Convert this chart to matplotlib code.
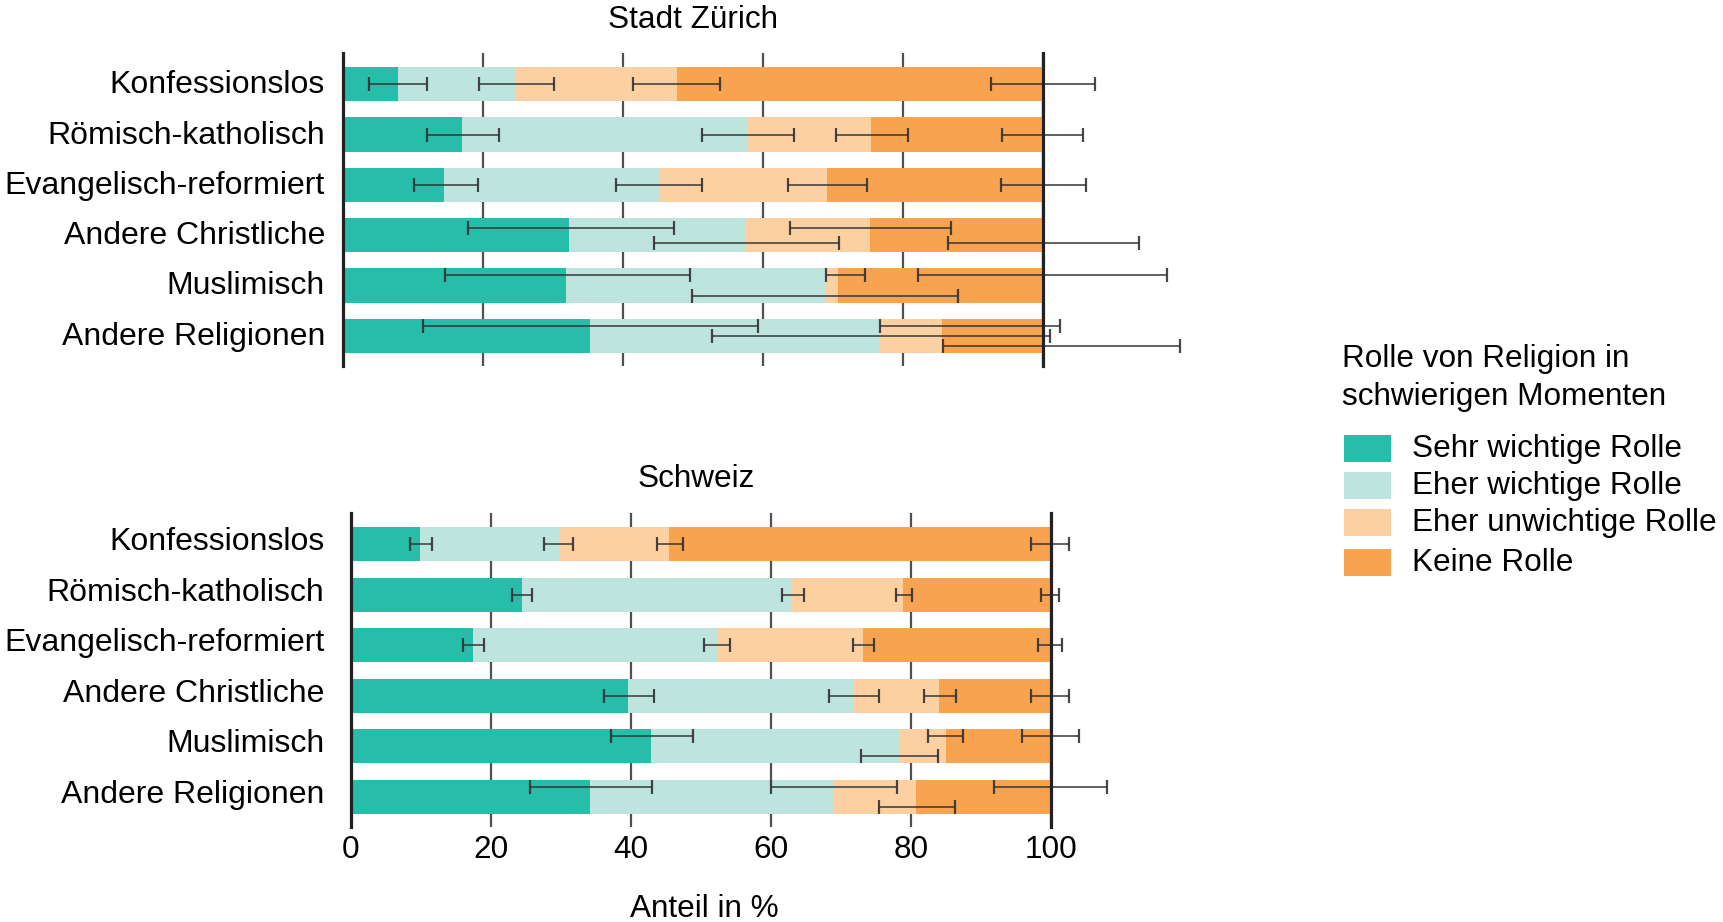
import matplotlib
matplotlib.use("Agg")
import matplotlib.pyplot as plt
from matplotlib.patches import Rectangle
from matplotlib.transforms import ScaledTranslation
import numpy as np

plt.rcParams['font.family'] = ['Liberation Sans', 'DejaVu Sans']

categories = ["Konfessionslos", "Römisch-katholisch", "Evangelisch-reformiert",
              "Andere Christliche", "Muslimisch", "Andere Religionen"]
levels = ["Sehr wichtige Rolle", "Eher wichtige Rolle",
          "Eher unwichtige Rolle", "Keine Rolle"]
colors = ["#26bda9", "#bde4dd", "#fdd0a2", "#f8a34f"]

# Stadt Zürich: shares per answer (%), error margins below/above the stacked end
zh_shares = [[7.8, 16.7, 23.2, 52.3],
             [17.0, 40.8, 17.7, 24.5],
             [14.4, 30.7, 24.0, 30.9],
             [32.3, 25.2, 17.8, 24.7],
             [31.9, 37.0, 1.9, 29.2],
             [35.3, 41.3, 9.0, 14.4]]
zh_err_lo = [[4.1, 5.1, 6.3, 7.4],
             [5.1, 6.5, 5.1, 5.8],
             [4.3, 6.1, 5.5, 6.0],
             [14.5, 13.1, 11.5, 13.5],
             [17.4, 19.0, 1.8, 17.8],
             [23.9, 23.9, 8.9, 14.3]]
zh_err_hi = [[4.2, 5.6, 6.2, 7.5],
             [5.3, 6.7, 5.3, 5.8],
             [4.8, 6.2, 5.8, 6.2],
             [15.0, 13.4, 11.6, 13.8],
             [17.7, 19.0, 3.8, 17.8],
             [24.0, 24.4, 16.9, 19.7]]
zh_dodge = [[0, 0, 0, 0],
            [0, 0, 0, 0],
            [0, 0, 0, 0],
            [-0.15, 0.15, -0.15, 0.15],
            [-0.2, 0.2, -0.2, -0.2],
            [-0.2, 0, -0.2, 0.2]]

# Schweiz
ch_shares = [[9.9, 19.8, 15.8, 54.5],
             [24.5, 38.4, 15.9, 21.2],
             [17.4, 34.9, 20.8, 26.9],
             [39.6, 32.1, 12.3, 16.0],
             [42.9, 35.5, 6.6, 15.0],
             [34.2, 34.7, 11.8, 19.3]]
ch_err_lo = [[1.4, 2.05, 1.8, 2.8],
             [1.4, 1.3, 0.9, 1.4],
             [1.3, 1.85, 1.4, 1.9],
             [3.5, 3.4, 2.1, 2.8],
             [5.8, 5.6, 2.5, 4.1],
             [8.6, 8.9, 5.3, 8.1]]
ch_err_hi = [[1.75, 2.05, 2.0, 2.5],
             [1.4, 1.8, 1.4, 1.1],
             [1.6, 1.8, 1.6, 1.6],
             [3.7, 3.7, 2.5, 2.5],
             [6.0, 5.5, 2.4, 3.95],
             [8.85, 9.1, 5.6, 7.95]]
ch_dodge = [[0, 0, 0, 0],
            [0, 0, 0, 0],
            [0, 0, 0, 0],
            [0, 0, 0, 0],
            [-0.2, 0.2, -0.2, -0.2],
            [-0.2, -0.2, 0.2, -0.2]]

W, H = 1723, 922
FS = 22.7


def fx(px):
    return px / W


def fy(py):
    return 1 - py / H


def draw_panel(ax, shares, err_lo, err_hi, dodge, ypad, yshift, show_x):
    shares = np.array(shares)
    err_lo = np.array(err_lo)
    err_hi = np.array(err_hi)
    dodge = np.array(dodge)
    y = np.arange(len(categories))
    left = np.zeros(len(categories))
    for j in range(len(levels)):
        ax.barh(y, shares[:, j], left=left, height=0.68, color=colors[j],
                linewidth=0, zorder=2)
        left = left + shares[:, j]
        eb = ax.errorbar(left, y + dodge[:, j], xerr=[err_lo[:, j], err_hi[:, j]],
                         fmt='none', ecolor='#333333', elinewidth=1.2,
                         capsize=5, capthick=1.6, alpha=0.9, zorder=3)
        for a in eb.get_children():
            a.set_clip_on(False)
    ax.set_xlim(0, 100)
    ax.set_ylim(5.6, -0.62)
    ax.set_xticks([0, 20, 40, 60, 80, 100])
    ax.grid(axis='x', color='#505050', linewidth=1.6, zorder=0)
    ax.set_axisbelow(True)
    for s in ax.spines.values():
        s.set_visible(False)
    ax.axvline(0, color='#222222', linewidth=2.3, zorder=4, clip_on=False)
    ax.axvline(100, color='#222222', linewidth=2.3, zorder=4, clip_on=False)
    ax.set_yticks(y, categories)
    ax.tick_params(axis='y', length=0, pad=ypad, labelsize=23.0)
    ax.tick_params(axis='x', length=0, pad=6, labelsize=FS, labelbottom=show_x)
    off = ScaledTranslation(0, yshift / 100, ax.figure.dpi_scale_trans)
    for lab in ax.get_yticklabels():
        lab.set_transform(lab.get_transform() + off)


fig = plt.figure(figsize=(W / 100, H / 100), dpi=100)

ax1 = fig.add_axes([fx(343.3), fy(366), fx(1042.7 - 343.3), 313 / H])
draw_panel(ax1, zh_shares, zh_err_lo, zh_err_hi, zh_dodge, 13.2, 2.5, False)

ax2 = fig.add_axes([fx(350.7), fy(827), fx(1051 - 350.7), 314 / H])
draw_panel(ax2, ch_shares, ch_err_lo, ch_err_hi, ch_dodge, 18.8, 5.5, True)

fig.text(fx(693), fy(28.5), "Stadt Zürich", ha='center', va='baseline', fontsize=FS)
fig.text(fx(696), fy(487), "Schweiz", ha='center', va='baseline', fontsize=FS)
fig.text(fx(704), fy(917), "Anteil in %", ha='center', va='baseline', fontsize=FS)

# legend
fig.text(fx(1342), fy(367.3), "Rolle von Religion in", va='baseline', fontsize=FS)
fig.text(fx(1342), fy(405), "schwierigen Momenten", va='baseline', fontsize=FS)
key_tops = [435, 472, 509, 549]
text_base = [457.3, 494, 530.7, 570.7]
for lab, col, top, base in zip(levels, colors, key_tops, text_base):
    fig.add_artist(Rectangle((fx(1344), fy(top + 27)), 47 / W, 27 / H,
                             transform=fig.transFigure, facecolor=col, linewidth=0))
    fig.text(fx(1412), fy(base), lab, va='baseline', fontsize=FS)

fig.savefig("out.png", dpi=100)
